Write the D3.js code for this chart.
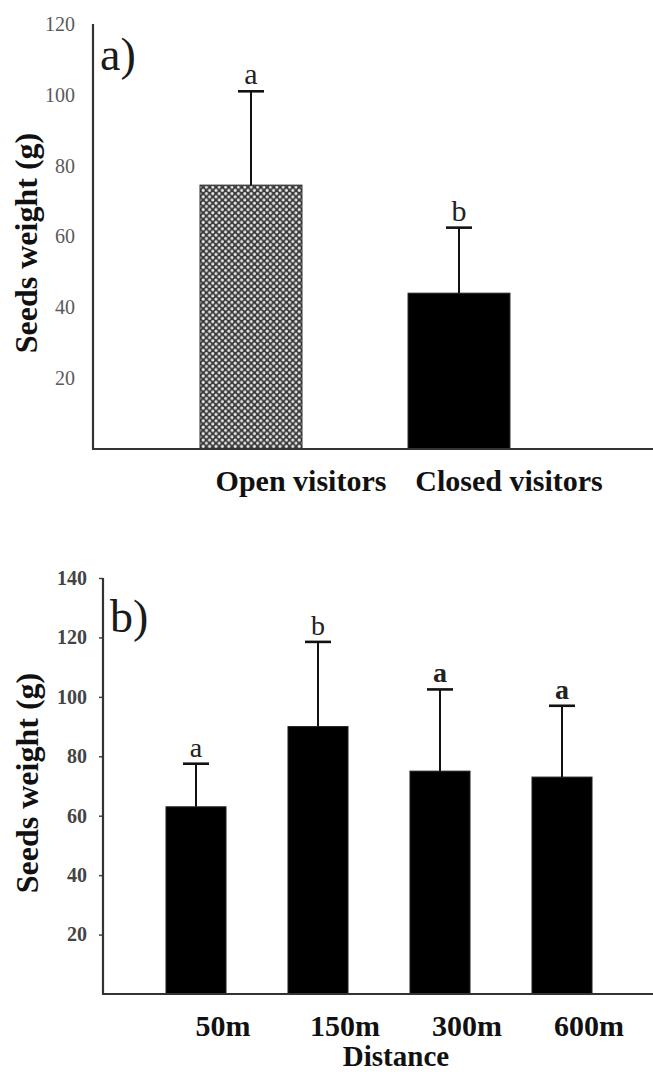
<!DOCTYPE html>
<meta charset="utf-8">
<style>
  body { margin: 0; background: #fff; }
  svg { display: block; font-family: "Liberation Serif", "Times New Roman", serif; }
  .tick-a { fill: #5a5a5a; font-size: 20px; font-family: "Liberation Serif", "Times New Roman", serif; }
  .tick-b { fill: #444; font-size: 20px; font-weight: bold; font-family: "Liberation Serif", "Times New Roman", serif; }
  .ylab { font-size: 32px; font-weight: bold; fill: #111; }
  .xlab { font-size: 30px; font-weight: bold; fill: #111; }
  .panel { font-size: 46px; fill: #1a1a1a; }
</style>
<script src="https://d3js.org/d3.v7.min.js"></script>
<body>
<svg id="chart" width="653" height="1074"></svg>
<script>

// panel a) - visitors
var groupsA = ["Open visitors", "Closed visitors"];
var meansA = [74.5, 44];
var upperA = [101, 62.5];
var lettersA = ["a", "b"];
var ticksA = [20, 40, 60, 80, 100, 120];

// panel b) - distance
var distances = ["50m", "150m", "300m", "600m"];
var meansB = [63, 90, 75, 73];
var upperB = [77.5, 118.5, 102.5, 97];
var lettersB = ["a", "b", "a", "a"];
var ticksB = [20, 40, 60, 80, 100, 120, 140];

var svg = d3.select("#chart");

// dotted fill for the open visitors bar
var pat = svg.append("defs").append("pattern")
  .attr("id", "dots")
  .attr("patternUnits", "userSpaceOnUse")
  .attr("width", 6.4).attr("height", 6.4);
pat.append("rect").attr("width", 6.4).attr("height", 6.4).attr("fill", "#3c3c3c");
pat.append("circle").attr("cx", 1.6).attr("cy", 1.6).attr("r", 1.5).attr("fill", "#e8e8e8");
pat.append("circle").attr("cx", 4.8).attr("cy", 4.8).attr("r", 1.5).attr("fill", "#e8e8e8");

function drawPanel(opt) {
  var g = svg.append("g");
  var x = d3.scaleBand().domain(opt.cats).range(opt.xr)
    .paddingInner(opt.pad).paddingOuter(opt.pad / 2);
  var y = d3.scaleLinear().domain([0, opt.ymax]).range(opt.yr);
  var bw = x.bandwidth();

  // y axis line + tick labels
  var yAxis = d3.axisLeft(y).tickValues(opt.ticks).tickSize(opt.tickLen).tickPadding(opt.tickPad);
  var ya = g.append("g").attr("transform", "translate(" + opt.xr0 + ",0)").call(yAxis);
  ya.attr("font-family", null).attr("font-size", null);
  ya.select(".domain").remove();
  ya.selectAll("line").attr("stroke", "#444").attr("stroke-width", 1.5);
  ya.selectAll("text").attr("class", opt.tickClass).attr("fill", null);
  g.append("line")
    .attr("x1", opt.xr0).attr("x2", opt.xr0)
    .attr("y1", y(0)).attr("y2", y(opt.ymax))
    .attr("stroke", "#333").attr("stroke-width", 2.2);

  // bars
  g.selectAll("rect.bar").data(opt.cats).enter().append("rect")
    .attr("class", "bar")
    .attr("x", function(d) { return x(d); })
    .attr("width", bw)
    .attr("y", function(d, i) { return y(opt.means[i]); })
    .attr("height", function(d, i) { return y(0) - y(opt.means[i]); })
    .attr("fill", function(d, i) { return opt.fills[i]; })
    .attr("stroke", "#222").attr("stroke-width", 1);

  // error bars (upper only)
  var eb = g.selectAll("g.err").data(opt.cats).enter().append("g").attr("class", "err");
  eb.append("line")
    .attr("x1", function(d) { return x(d) + bw / 2; })
    .attr("x2", function(d) { return x(d) + bw / 2; })
    .attr("y1", function(d, i) { return y(opt.means[i]); })
    .attr("y2", function(d, i) { return y(opt.upper[i]); })
    .attr("stroke", "#111").attr("stroke-width", 2);
  eb.append("line")
    .attr("x1", function(d) { return x(d) + bw / 2 - 13; })
    .attr("x2", function(d) { return x(d) + bw / 2 + 13; })
    .attr("y1", function(d, i) { return y(opt.upper[i]); })
    .attr("y2", function(d, i) { return y(opt.upper[i]); })
    .attr("stroke", "#111").attr("stroke-width", 2.6);
  eb.append("text")
    .attr("x", function(d) { return x(d) + bw / 2; })
    .attr("y", function(d, i) { return y(opt.upper[i]) - 7; })
    .attr("text-anchor", "middle")
    .attr("font-size", opt.letterSize)
    .attr("font-weight", function(d, i) { return opt.boldLetter(i) ? "bold" : "normal"; })
    .attr("fill", "#222")
    .text(function(d, i) { return opt.letters[i]; });

  // x axis line
  g.append("line")
    .attr("x1", opt.xr0 - 1).attr("x2", 653)
    .attr("y1", y(0)).attr("y2", y(0))
    .attr("stroke", "#333").attr("stroke-width", 2.2);

  // category labels
  g.selectAll("text.xlab").data(opt.cats).enter().append("text")
    .attr("class", "xlab")
    .attr("x", function(d) { return x(d) + bw / 2 + opt.labShift; })
    .attr("y", opt.labY)
    .attr("text-anchor", "middle")
    .text(function(d) { return d; });

  // y title
  g.append("text").attr("class", "ylab")
    .attr("transform", "translate(" + opt.ylabX + "," + opt.ylabY + ") rotate(-90)")
    .attr("text-anchor", "middle")
    .text("Seeds weight (g)");

  // panel letter
  g.append("text").attr("class", "panel")
    .attr("x", opt.xr0 + 7).attr("y", opt.panelY)
    .text(opt.panel);

  return g;
}

drawPanel({
  cats: groupsA, means: meansA, upper: upperA, letters: lettersA, ticks: ticksA,
  ymax: 120, yr: [449, 24], xr0: 93, xr: [147, 563], pad: 0.51,
  fills: ["url(#dots)", "#000"], tickLen: 0, tickPad: 18, tickClass: "tick-a",
  letterSize: 30, boldLetter: function(i) { return false; },
  labShift: 50, labY: 491, ylabX: 37, ylabY: 243, panelY: 70, panel: "a)"
});

var gb = drawPanel({
  cats: distances, means: meansB, upper: upperB, letters: lettersB, ticks: ticksB,
  ymax: 140, yr: [994, 578], xr0: 103, xr: [135, 623], pad: 0.508,
  fills: ["#000", "#000", "#000", "#000"], tickLen: 4, tickPad: 12, tickClass: "tick-b",
  letterSize: 28, boldLetter: function(i) { return i >= 2; },
  labShift: 27, labY: 1036, ylabX: 38, ylabY: 783, panelY: 632, panel: "b)"
});

gb.append("text").attr("class", "xlab")
  .attr("x", 396).attr("y", 1066)
  .attr("text-anchor", "middle")
  .style("font-size", "29px")
  .text("Distance");

</script>
</body>
